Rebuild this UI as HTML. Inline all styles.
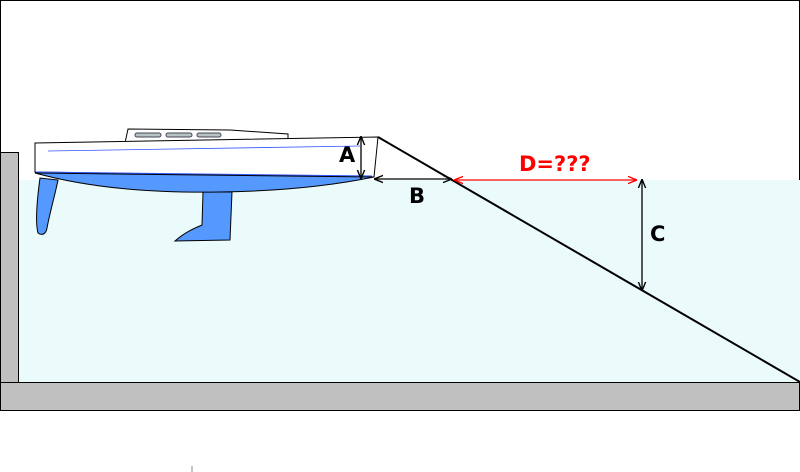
<!DOCTYPE html>
<html><head><style>body{margin:0;background:#fff}svg{display:block}</style></head><body>
<svg width="800" height="472" viewBox="0 0 800 472" xmlns="http://www.w3.org/2000/svg" font-family="DejaVu Sans, sans-serif">
<defs>
<marker id="ak" viewBox="0 0 10 10" refX="9" refY="5" markerWidth="7" markerHeight="7" orient="auto-start-reverse"><path d="M0,1 L10,5 L0,9" fill="none" stroke="#000" stroke-width="1.5"/></marker>
<marker id="ar" viewBox="0 0 10 10" refX="9" refY="5" markerWidth="7" markerHeight="7" orient="auto-start-reverse"><path d="M0,1 L10,5 L0,9" fill="none" stroke="#f00" stroke-width="1.5"/></marker>
</defs>
<rect x="0.5" y="0.5" width="799" height="410" fill="#fff" stroke="#000"/>
<rect x="19" y="180" width="781" height="202" fill="#ebfafa"/>
<rect x="0.5" y="152.5" width="18" height="230" fill="#c0c0c0" stroke="#000"/>
<rect x="0.5" y="382.5" width="799" height="28" fill="#c0c0c0" stroke="#000"/>
<line x1="192" y1="466" x2="192" y2="472" stroke="#888"/>
<path d="M40,178 C37,200 35,222 38,233 C42,236 46,234 47,228 C50,212 55,195 58,180 Z" fill="#5599ff" stroke="#000"/>
<path d="M203,192 L202,225 C195,228 185,232 175,241 L230,240 L232,192 Z" fill="#5599ff" stroke="#000"/>
<path d="M125,143 L128,129 L230,130 L288,134 L288,140 Z" fill="#fff" stroke="#000"/>
<rect x="135" y="133" width="26" height="4" rx="2" fill="#b8c4c4" stroke="#445"/>
<rect x="166" y="133" width="26" height="4" rx="2" fill="#b8c4c4" stroke="#445"/>
<rect x="197" y="133" width="24" height="4" rx="2" fill="#b8c4c4" stroke="#445"/>
<path d="M35,143 L378,137 L374,177 L35,172 Z" fill="#fff" stroke="#000"/>
<path d="M35,173 C90,188 150,193 220,192 C290,191 340,184 374,177 L35,173 Z" fill="#5599ff" stroke="#000"/>
<line x1="36" y1="172" x2="372" y2="176" stroke="#3355ff" stroke-width="1"/>
<line x1="48" y1="151" x2="360" y2="146" stroke="#3355ff" stroke-width="0.8"/>
<line x1="378" y1="137" x2="800" y2="382" stroke="#000" stroke-width="2"/>
<line x1="361" y1="137" x2="361" y2="178" stroke="#000" stroke-width="1.3" marker-start="url(#ak)" marker-end="url(#ak)"/>
<line x1="375" y1="179" x2="451" y2="179" stroke="#000" stroke-width="1.3" marker-start="url(#ak)" marker-end="url(#ak)"/>
<line x1="455" y1="180" x2="636" y2="180" stroke="#f00" stroke-width="1.3" marker-start="url(#ar)" marker-end="url(#ar)"/>
<line x1="642" y1="180" x2="642" y2="290" stroke="#000" stroke-width="1.3" marker-start="url(#ak)" marker-end="url(#ak)"/>
<g font-weight="bold" font-size="21">
<text x="339" y="162">A</text>
<text x="409" y="203">B</text>
<text x="650" y="241">C</text>
<text x="519" y="171" fill="#f00">D=???</text>
</g>
</svg>
</body></html>
